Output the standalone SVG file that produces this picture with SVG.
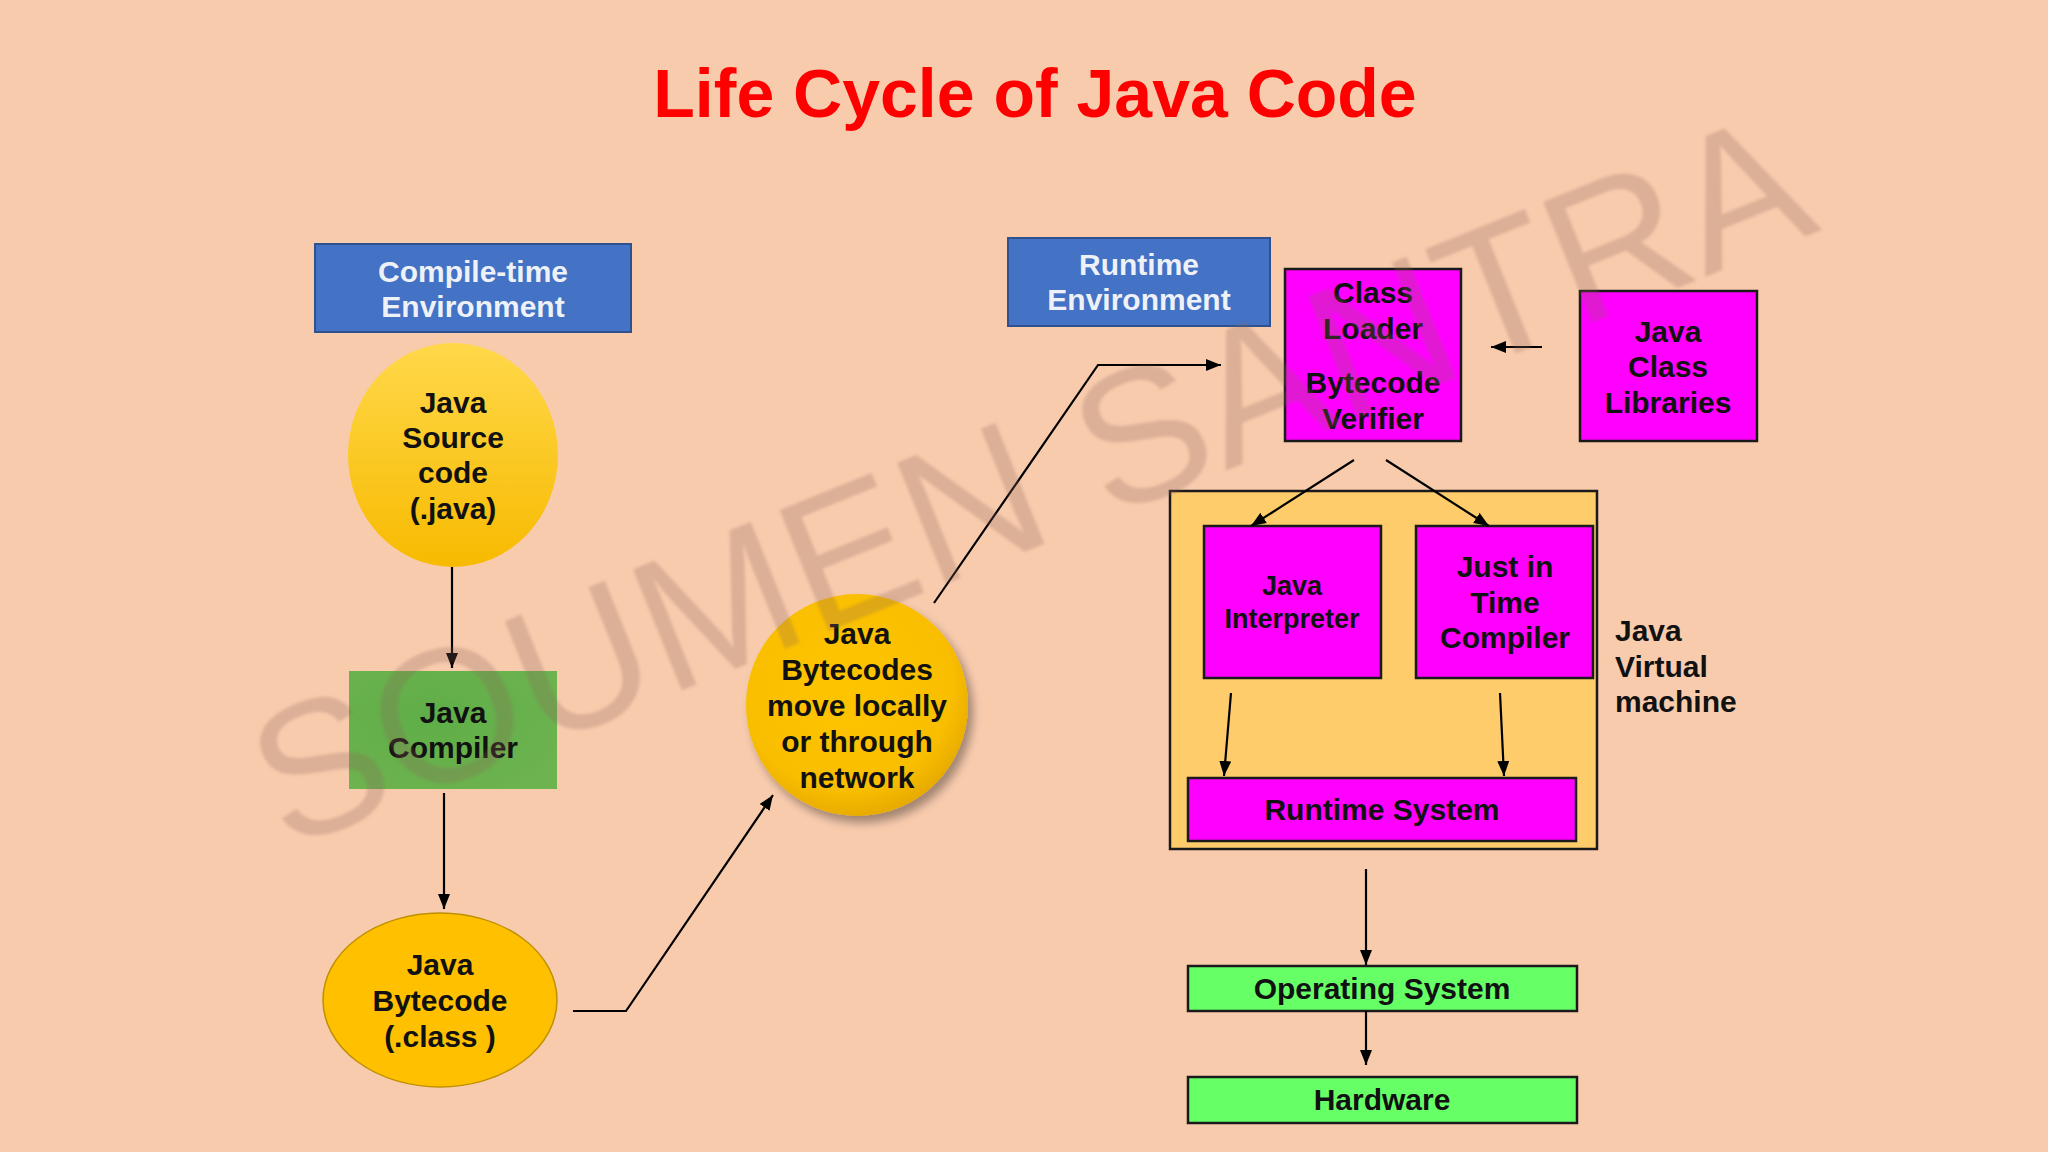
<svg xmlns="http://www.w3.org/2000/svg" width="2048" height="1152" viewBox="0 0 2048 1152">
<defs>
<style>
.t{font-family:"Liberation Sans",Arial,sans-serif;font-weight:bold;font-size:30px;fill:#111;text-anchor:middle}
.w{fill:#EEF1F7}
.env{fill:#4472C4;stroke:#2F528F;stroke-width:2}
.mag{fill:#FF00FF;stroke:#1a1a1a;stroke-width:2.5}
.grn{fill:#66FF66;stroke:#1a1a1a;stroke-width:2.5}
.con{fill:none;stroke:#000;stroke-width:2.2}
</style>
<marker id="ah" markerUnits="userSpaceOnUse" markerWidth="16" markerHeight="14" refX="15" refY="6" orient="auto">
<path d="M0,0 L15,6 L0,12 z" fill="#000"/>
</marker>
<linearGradient id="gy1" x1="0" y1="0" x2="0" y2="1">
<stop offset="0" stop-color="#FFD84A"/>
<stop offset="1" stop-color="#F7BA00"/>
</linearGradient>
<radialGradient id="gy2" cx="0.45" cy="0.4" r="0.6">
<stop offset="0" stop-color="#FFC400"/>
<stop offset="0.8" stop-color="#F9BE00"/>
<stop offset="1" stop-color="#E8AC00"/>
</radialGradient>
<radialGradient id="gg" cx="0.4" cy="0.4" r="0.7">
<stop offset="0" stop-color="#5FAE48"/>
<stop offset="1" stop-color="#6DB34F"/>
</radialGradient>
<filter id="sh" x="-20%" y="-20%" width="150%" height="150%">
<feGaussianBlur in="SourceAlpha" stdDeviation="5"/>
<feOffset dx="5" dy="7" result="b"/>
<feComponentTransfer><feFuncA type="linear" slope="0.35"/></feComponentTransfer>
<feMerge><feMergeNode/><feMergeNode in="SourceGraphic"/></feMerge>
</filter>
<filter id="wm" x="-5%" y="-20%" width="110%" height="140%">
<feGaussianBlur stdDeviation="1.5"/>
</filter>
</defs>
<rect width="2048" height="1152" fill="#F8CBAD"/>
<text x="1035" y="117" font-family="'Liberation Sans',Arial,sans-serif" font-weight="bold" font-size="68" fill="#FF0000" text-anchor="middle">Life Cycle of Java Code</text>

<g id="compile-env">
<rect class="env" x="315" y="244" width="316" height="88"/>
<text class="t w" x="473" y="282">Compile-time</text>
<text class="t w" x="473" y="317">Environment</text>
</g>
<g id="java-source">
<ellipse cx="453" cy="455" rx="105" ry="112" fill="url(#gy1)"/>
<text class="t" x="453" y="413">Java</text>
<text class="t" x="453" y="448">Source</text>
<text class="t" x="453" y="483">code</text>
<text class="t" x="453" y="519">(.java)</text>
</g>
<g id="java-compiler">
<rect x="349" y="671" width="208" height="118" fill="url(#gg)"/>
<text class="t" x="453" y="723">Java</text>
<text class="t" x="453" y="758">Compiler</text>
</g>
<g id="java-bytecode">
<ellipse cx="440" cy="1000" rx="117" ry="87" fill="#FFC000" stroke="#BF9000" stroke-width="1.5"/>
<text class="t" x="440" y="975">Java</text>
<text class="t" x="440" y="1011">Bytecode</text>
<text class="t" x="440" y="1047">(.class )</text>
</g>
<g id="bytecodes-move">
<ellipse cx="857" cy="705" rx="111" ry="111" fill="url(#gy2)" filter="url(#sh)"/>
<text class="t" x="857" y="644">Java</text>
<text class="t" x="857" y="680">Bytecodes</text>
<text class="t" x="857" y="716">move locally</text>
<text class="t" x="857" y="752">or through</text>
<text class="t" x="857" y="788">network</text>
</g>
<g id="runtime-env">
<rect class="env" x="1008" y="238" width="262" height="88"/>
<text class="t w" x="1139" y="275">Runtime</text>
<text class="t w" x="1139" y="310">Environment</text>
</g>
<g id="class-loader">
<rect class="mag" x="1285" y="269" width="176" height="172"/>
<text class="t" x="1373" y="303">Class</text>
<text class="t" x="1373" y="339">Loader</text>
<text class="t" x="1373" y="393">Bytecode</text>
<text class="t" x="1373" y="429">Verifier</text>
</g>
<g id="class-libraries">
<rect class="mag" x="1580" y="291" width="177" height="150"/>
<text class="t" x="1668" y="342">Java</text>
<text class="t" x="1668" y="377">Class</text>
<text class="t" x="1668" y="413">Libraries</text>
</g>
<g id="jvm">
<rect x="1170" y="491" width="427" height="358" fill="#FFCC6B" stroke="#1a1a1a" stroke-width="2.5"/>
<text class="t" x="1615" y="641" style="text-anchor:start">Java</text>
<text class="t" x="1615" y="677" style="text-anchor:start">Virtual</text>
<text class="t" x="1615" y="712" style="text-anchor:start">machine</text>
</g>
<g id="interpreter">
<rect class="mag" x="1204" y="526" width="177" height="152"/>
<text class="t" x="1292" y="595" style="font-size:27px">Java</text>
<text class="t" x="1292" y="628" style="font-size:27px">Interpreter</text>
</g>
<g id="jit">
<rect class="mag" x="1416" y="526" width="177" height="152"/>
<text class="t" x="1505" y="577">Just in</text>
<text class="t" x="1505" y="613">Time</text>
<text class="t" x="1505" y="648">Compiler</text>
</g>
<g id="runtime-system">
<rect class="mag" x="1188" y="778" width="388" height="63"/>
<text class="t" x="1382" y="820">Runtime System</text>
</g>
<g id="os">
<rect class="grn" x="1188" y="966" width="389" height="45"/>
<text class="t" x="1382" y="999">Operating System</text>
</g>
<g id="hardware">
<rect class="grn" x="1188" y="1077" width="389" height="46"/>
<text class="t" x="1382" y="1110">Hardware</text>
</g>

<g id="connectors">
<path class="con" d="M452,567 L452,668" marker-end="url(#ah)"/>
<path class="con" d="M444,793 L444,909" marker-end="url(#ah)"/>
<path class="con" d="M573,1011 L626,1011 L773,795" marker-end="url(#ah)"/>
<path class="con" d="M934,603 L1098,365 L1221,365" marker-end="url(#ah)"/>
<path class="con" d="M1542,347 L1491,347" marker-end="url(#ah)"/>
<path class="con" d="M1354,460 L1251,526" marker-end="url(#ah)"/>
<path class="con" d="M1386,460 L1489,526" marker-end="url(#ah)"/>
<path class="con" d="M1231,693 L1224,776" marker-end="url(#ah)"/>
<path class="con" d="M1500,693 L1504,776" marker-end="url(#ah)"/>
<path class="con" d="M1366,869 L1366,965" marker-end="url(#ah)"/>
<path class="con" d="M1366,1011 L1366,1065" marker-end="url(#ah)"/>
</g>

<text x="1054" y="540" transform="rotate(-22 1054 540)" font-family="'Liberation Sans',Arial,sans-serif" font-size="190" fill="#8a6656" fill-opacity="0.26" text-anchor="middle" filter="url(#wm)">SOUMEN SANTRA</text>
</svg>
